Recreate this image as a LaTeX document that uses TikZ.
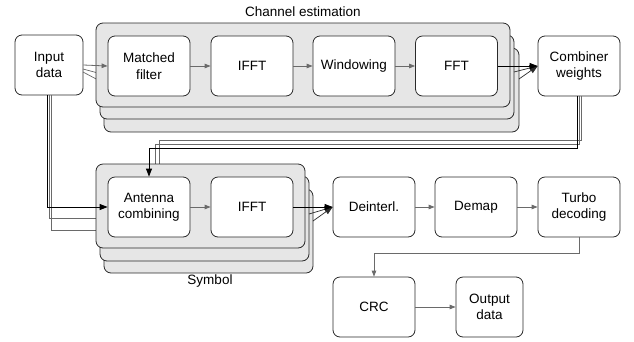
\documentclass[tikz,border=0pt]{standalone}
\usepackage{fontspec}
\setmainfont{Liberation Sans}
\usetikzlibrary{arrows.meta,calc}
\definecolor{layergray}{HTML}{E6E6E6}
\definecolor{linegray}{HTML}{6A6A6A}
\definecolor{edgecol}{HTML}{2A2A2A}
\begin{document}
\begin{tikzpicture}[x=1pt,y=-1pt,
  blk/.style={draw=edgecol, rounded corners=7pt, fill=white, minimum width=82pt, minimum height=60pt, align=center, font=\fontsize{13.5}{16.5}\selectfont, inner sep=2pt, line width=0.8pt},
  lay/.style={draw=edgecol, rounded corners=7pt, fill=layergray, line width=0.8pt},
  garr/.style={draw=linegray, line width=0.8pt, -{Triangle[length=6pt,width=4.5pt]}},
  gline/.style={draw=linegray, line width=0.7pt},
  barr/.style={draw=black, line width=0.9pt, -{Triangle[length=8pt,width=6pt]}},
  sarr/.style={draw=edgecol, line width=0.7pt, -{Triangle[length=8pt,width=6pt]}},
  lbl/.style={font=\fontsize{13.5}{16.5}\selectfont, inner sep=0pt}
]
\useasboundingbox (0,0) rectangle (634,341);

% nodes outside the stacks
\node[blk, minimum width=68pt] (in) at (49,65) {Input\\data};
\node[blk] (comb) at (579,66) {Combiner\\weights};
\node[blk] (deint) at (374,207) {Deinterl.};
\node[blk] (demap) at (476,207) {Demap};
\node[blk] (turbo) at (579,207) {Turbo\\decoding};
\node[blk] (crc) at (374,307) {CRC};
\node[blk, minimum width=67pt] (out) at (489.5,307) {Output\\data};

\node[lbl] (celbl) at (303,12) {Channel estimation};
\node[lbl] (symlbl) at (210,281) {Symbol};

% hidden connectors of back layers
\coordinate (in2) at (83,69);
\coordinate (in3) at (83,72);
\draw[gline] (in2) -- (113,77);
\draw[gline] (in3) -- (117,90);
\draw[gline] ($(in.south)+(0,0)$) -- (49,218) -- (112,218);
\draw[gline] ($(in.south)+(2,0)$) -- (51,230) -- (112,230);
\draw[gline] ($(comb.south)+(0,0)$) -- (579,144) -- (155,144) -- (155,175);
\draw[gline] ($(comb.south)+(2,0)$) -- (581,140) -- (159,140) -- (159,175);

% stacks, row 1
\draw[lay] (104,48) rectangle (519,132);
\draw[lay] (100,35) rectangle (514,119);
\draw[lay] (96,23) rectangle (510,107);
% stacks, row 2
\draw[lay] (104,189) rectangle (313,273);
\draw[lay] (100,176) rectangle (309,261);
\draw[lay] (96,164) rectangle (305,248);

% front nodes
\node[blk] (mf) at (149,66) {Matched\\filter};
\node[blk] (ifft) at (252,66) {IFFT};
\node[blk] (win) at (354,66) {Windowing};
\node[blk] (fft) at (456.5,66) {FFT};
\node[blk] (ant) at (149,207) {Antenna\\combining};
\node[blk] (ifft2) at (252,207) {IFFT};

% front connectors
\draw[garr] (in.east) -- (mf.west);
\draw[garr] (mf) -- (ifft);
\draw[garr] (ifft) -- (win);
\draw[garr] (win) -- (fft);
\coordinate (f2) at (514,72);
\coordinate (f3) at (519,79);
\draw[sarr] (f2) -- (comb.west);
\draw[sarr] (f3) -- (comb.west);
\draw[barr] (fft.east) -- (comb.west);

\draw[barr] ($(in.south)+(-2,0)$) -- (47,207) -- (ant.west);
\draw[barr] ($(comb.south)+(-2,0)$) -- (577,148) -- (149,148) -- (ant.north);

\draw[garr] (ant) -- (ifft2);
\coordinate (s2) at (309,214);
\coordinate (s3) at (313,221);
\draw[sarr] (s2) -- (deint.west);
\draw[sarr] (s3) -- (deint.west);
\draw[barr] (ifft2.east) -- (deint.west);

\draw[garr] (deint) -- (demap);
\draw[garr] (demap) -- (turbo);
\draw[garr] (turbo.south) -- (579,253) -- (374,253) -- (crc.north);
\draw[garr] (crc) -- (out);
\end{tikzpicture}
\end{document}
